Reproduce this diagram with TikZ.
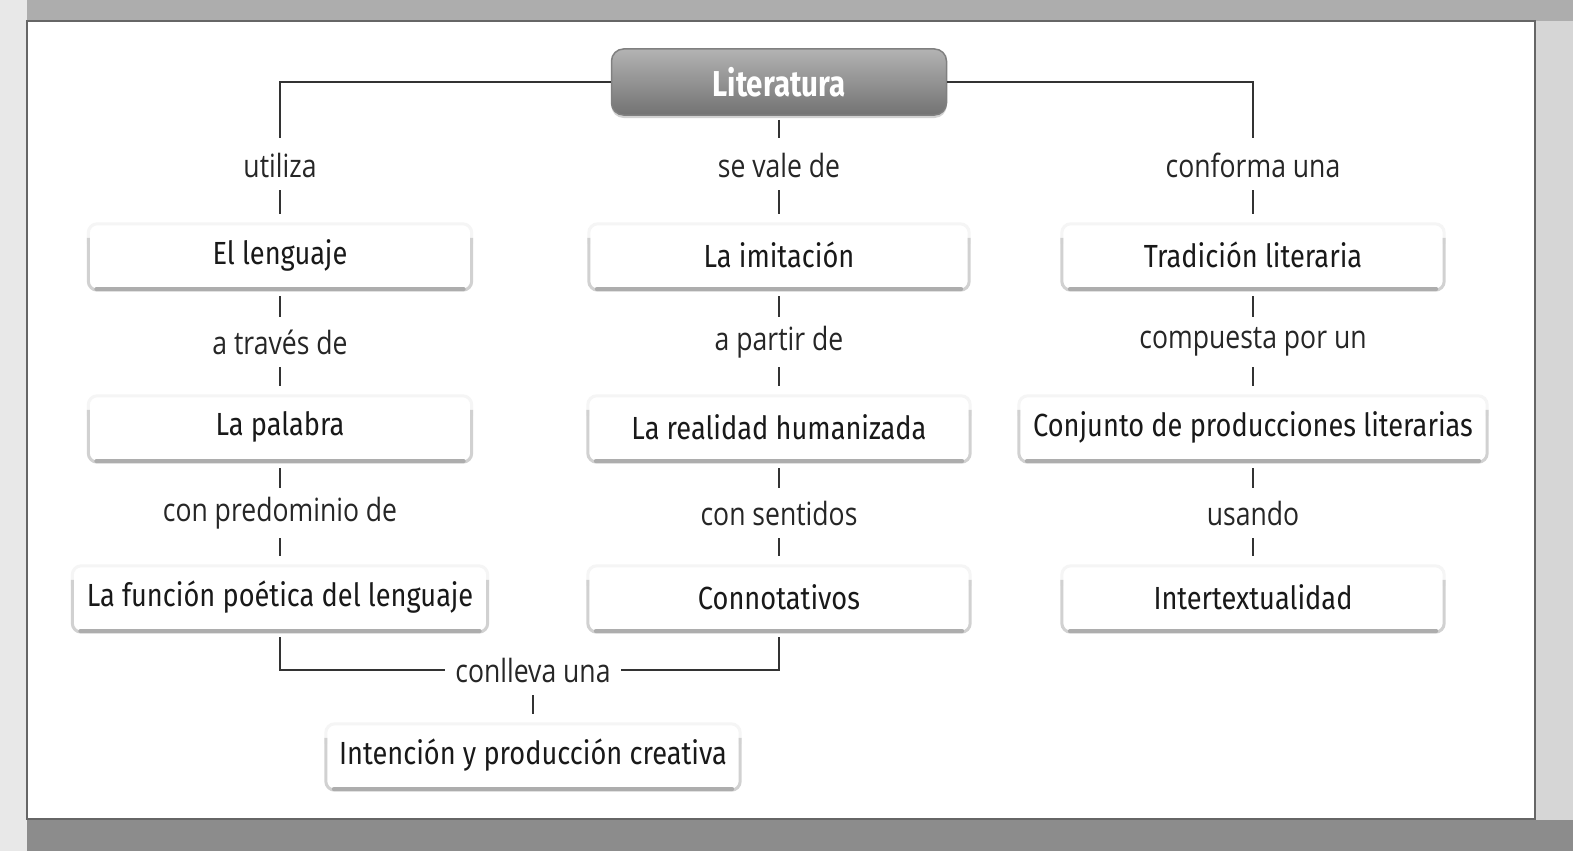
\documentclass[tikz,border=0pt]{standalone}
\usepackage{fontspec}
\setmainfont{Fira Sans}
\newfontfamily\boxfont{Fira Sans}[FakeStretch=0.85]
\newfontfamily\litfont{Fira Sans}[FakeStretch=0.82]
\newfontfamily\lblfont{Open Sans}[FakeStretch=0.83]
\usetikzlibrary{shadows}
\tikzset{
  conn/.style={draw=black!80, line width=2pt},
  cbox/.style={font=\boxfont\fontsize{32}{36}\selectfont, text=black!90, minimum height=70pt, inner sep=0pt},
  lbl/.style={font=\lblfont\fontsize{32}{36}\selectfont, text=black!85, minimum height=50pt, inner sep=0pt},
  boxtop/.style={draw=black!4, line width=3pt, rounded corners=9pt},
  boxedge/.style={draw=black!18, line width=3pt, rounded corners=9pt},
  boxbottom/.style={draw=black!32, line width=4pt, line cap=round},
  lit/.style={rounded corners=12pt, minimum width=335pt, minimum height=66pt,
    top color=black!30, bottom color=black!55, draw=black!50, line width=1.5pt,
    text=white, font=\litfont\bfseries\fontsize{36}{40}\selectfont,
    drop shadow={shadow xshift=0pt, shadow yshift=-3pt, opacity=0.35}},
}
\begin{document}
\begin{tikzpicture}[x=1pt, y=-1pt]
\useasboundingbox (0,0) rectangle (1573,851);
% background
\fill[black!16] (0,0) rectangle (1573,851);
\fill[black!32] (0,0) rectangle (1573,21);
\fill[black!45] (0,820) rectangle (1573,851);
\fill[black!9] (0,0) rectangle (27,851);
\fill[white] (27,21) rectangle (1535,819);
\draw[black!60, line width=2pt] (27,21) rectangle (1535,819);

% central node
\node[lit] (lit) at (779,82) {Literatura};

% first row labels
\node[lbl] (utiliza) at (280,165) {utiliza};
\node[lbl] (sevale) at (779,165) {se vale de};
\node[lbl] (conforma) at (1253,165) {conforma una};

% first row boxes
\node[cbox, minimum width=383pt] (lenguaje) at (280,255) {El lenguaje};
\node[cbox, minimum width=380pt] (imitacion) at (779,255) {La imitación};
\node[cbox, minimum width=382pt] (tradicion) at (1253,255) {Tradición literaria};

% second row labels
\node[lbl] (traves) at (280,342) {a través de};
\node[lbl] (partir) at (779,342) {a partir de};
\node[lbl] (compuesta) at (1253,342) {compuesta por un};

% second row boxes
\node[cbox, minimum width=383pt] (palabra) at (280,427) {La palabra};
\node[cbox, minimum width=382pt] (realidad) at (779,427) {La realidad humanizada};
\node[cbox, minimum width=468pt] (conjunto) at (1253,427) {Conjunto de producciones literarias};

% third row labels
\node[lbl] (predominio) at (280,513) {con predominio de};
\node[lbl] (sentidos) at (779,513) {con sentidos};
\node[lbl] (usando) at (1253,513) {usando};

% third row boxes
\node[cbox, minimum width=415pt] (funcion) at (280,597) {La función poética del lenguaje};
\node[cbox, minimum width=382pt] (conno) at (779,597) {Connotativos};
\node[cbox, minimum width=382pt] (inter) at (1253,597) {Intertextualidad};

% bottom
\node[lbl, minimum width=176pt] (conlleva) at (533,670) {conlleva una};
\node[cbox, minimum width=414pt] (intencion) at (533,755) {Intención y producción creativa};

% box outlines
\foreach \n in {lenguaje,imitacion,tradicion,palabra,realidad,conjunto,funcion,conno,inter,intencion}{
  \draw[boxtop] ([yshift=-24pt]\n.north west) -- ([yshift=-4pt]\n.north west) -- ([yshift=-4pt]\n.north east) -- ([yshift=-24pt]\n.north east);
  \draw[boxedge] ([yshift=-18pt]\n.north west) -- (\n.south west) -- (\n.south east) -- ([yshift=-18pt]\n.north east);
  \draw[boxbottom] ([xshift=8pt,yshift=1pt]\n.south west) -- ([xshift=-8pt,yshift=1pt]\n.south east);
}

% connectors
\draw[conn, shorten >=2pt] (lit.west) -| (utiliza.north);
\draw[conn, shorten >=2pt] (lit.east) -| (conforma.north);
\draw[conn, shorten <=4pt, shorten >=2pt] (lit.south) -- (sevale.north);
\foreach \a/\b in {utiliza/lenguaje,traves/palabra,predominio/funcion,
                   sevale/imitacion,partir/realidad,sentidos/conno,
                   conforma/tradicion,compuesta/conjunto,usando/inter,
                   conlleva/intencion}
  \draw[conn, shorten >=6pt] (\a.south) -- (\b.north);
\foreach \a/\b in {lenguaje/traves,palabra/predominio,
                   imitacion/partir,realidad/sentidos,
                   tradicion/compuesta,conjunto/usando}
  \draw[conn, shorten <=6pt] (\a.south) -- (\b.north);
\draw[conn, shorten <=5pt] (funcion.south) |- (conlleva.west);
\draw[conn, shorten <=5pt] (conno.south) |- (conlleva.east);
\end{tikzpicture}
\end{document}
